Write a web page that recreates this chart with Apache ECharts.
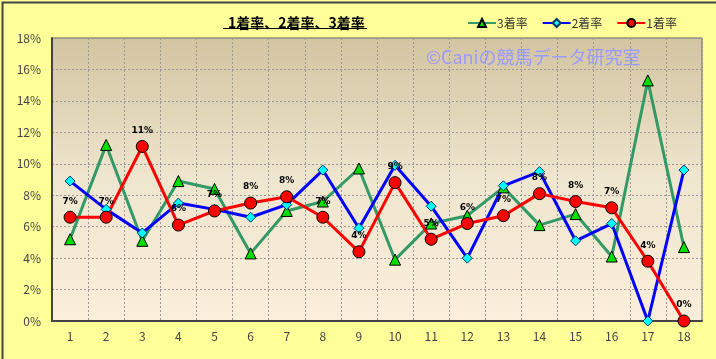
<!DOCTYPE html>
<html><head><meta charset="utf-8">
<script src="https://cdn.jsdelivr.net/npm/echarts@6/dist/echarts.min.js"></script>
<style>html,body{margin:0;padding:0;background:#FFFF99;}#c{width:716px;height:359px;}</style>
</head><body><div id="c"></div>
<script>
const categories = ['1','2','3','4','5','6','7','8','9','10','11','12','13','14','15','16','17','18'];
const rate3 = [5.2, 11.2, 5.1, 8.9, 8.4, 4.3, 7.0, 7.6, 9.7, 3.9, 6.2, 6.7, 8.5, 6.1, 6.8, 4.1, 15.3, 4.7];
const rate2 = [8.9, 7.1, 5.6, 7.5, 7.1, 6.6, 7.4, 9.6, 5.9, 9.9, 7.3, 4.0, 8.6, 9.5, 5.1, 6.2, 0.0, 9.6];
const rate1 = [6.6, 6.6, 11.1, 6.1, 7.0, 7.5, 7.9, 6.6, 4.4, 8.8, 5.2, 6.2, 6.7, 8.1, 7.6, 7.2, 3.8, 0.0];
const seriesNames = ['3着率', '2着率', '1着率'];
const titleText = '1着率、2着率、3着率';
const watermark = '©Caniの競馬データ研究室';

const chart = echarts.init(document.getElementById('c'), null, {renderer: 'canvas'});
const font = '"Noto Sans CJK JP", "Noto Sans", sans-serif';
chart.setOption({
  backgroundColor: '#FFFF99',
  animation: false,
  title: {
    text: titleText, left: 223, top: 11,
    textStyle: {fontSize: 14, fontWeight: 'bold', color: '#000', fontFamily: font}
  },
  legend: {
    top: 12, left: 462, itemGap: 14, itemWidth: 28, itemHeight: 10,
    textStyle: {fontSize: 12, color: '#333', fontFamily: font, padding: [0,0,0,-4]},
    data: seriesNames
  },
  grid: {
    left: 52, right: 14, top: 38, bottom: 38, show: true,
    borderColor: '#666', borderWidth: 1,
    backgroundColor: new echarts.graphic.LinearGradient(0, 0, 0, 1, [
      {offset: 0, color: '#D3C4A0'},
      {offset: 0.5, color: '#EFE6CF'},
      {offset: 1, color: '#FBEEDA'}
    ])
  },
  xAxis: {
    type: 'category', data: categories, boundaryGap: true,
    axisLine: {lineStyle: {color: '#444', width: 2}},
    axisTick: {show: false},
    axisLabel: {color: '#444', fontSize: 12, margin: 9, fontFamily: font},
    splitLine: {show: true, interval: 0, lineStyle: {color: '#999', type: [2, 2], width: 1}}
  },
  yAxis: {
    type: 'value', min: 0, max: 18, interval: 2,
    axisLine: {show: true, lineStyle: {color: '#444', width: 2}},
    axisTick: {show: false},
    axisLabel: {formatter: '{value}%', color: '#444', fontSize: 12, margin: 11, fontFamily: font},
    splitLine: {show: true, lineStyle: {color: '#999', type: [2, 2], width: 1}}
  },
  series: [
    {name: seriesNames[0], type: 'line', data: rate3, symbol: 'triangle', symbolSize: 11,
     lineStyle: {color: '#339966', width: 3},
     itemStyle: {color: '#00DD00', borderColor: '#000', borderWidth: 1}},
    {name: seriesNames[1], type: 'line', data: rate2, symbol: 'diamond', symbolSize: 10,
     lineStyle: {color: '#0000FF', width: 3},
     itemStyle: {color: '#00FFFF', borderColor: '#003366', borderWidth: 1}},
    {name: seriesNames[2], type: 'line', data: rate1, symbol: 'circle', symbolSize: 12,
     lineStyle: {color: '#FF0000', width: 3},
     itemStyle: {color: '#FF0000', borderColor: '#000', borderWidth: 1},
     label: {show: true, position: 'top', distance: 5, fontSize: 9, fontWeight: 'bold', color: '#000',
       fontFamily: '"DejaVu Sans", sans-serif',
       formatter: p => Math.round(p.value) + '%'}}
  ],
  graphic: [
    {type: 'rect', left: 0, top: 0, shape: {width: 715, height: 358},
     style: {fill: 'none', stroke: '#444', lineWidth: 2}, silent: true},
    {type: 'line', shape: {x1: 223, y1: 28.5, x2: 367, y2: 28.5},
     style: {stroke: '#000', lineWidth: 1}, silent: true},
    {type: 'text', left: 426, top: 48, z: 100,
     style: {text: watermark, fill: '#9999FF', fontSize: 18, fontFamily: font}}
  ]
});
</script></body></html>
